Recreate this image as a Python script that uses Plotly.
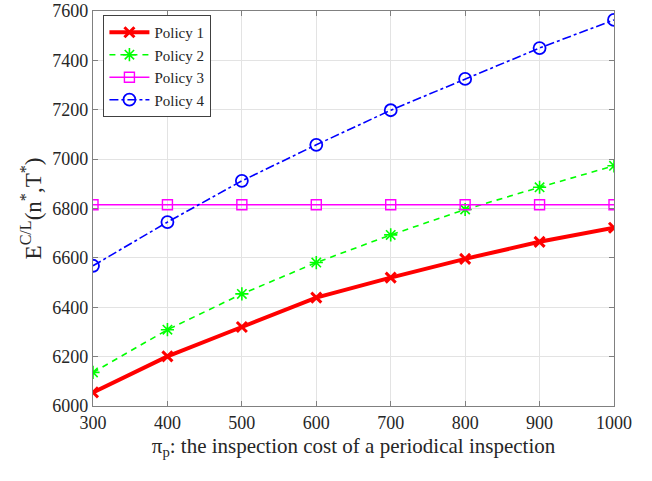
import plotly.graph_objects as go

x_vals = [300, 400, 500, 600, 700, 800, 900, 1000]
policy1 = [6055, 6201, 6320, 6439, 6520, 6596, 6665, 6722]
policy2 = [6136, 6309, 6454, 6581, 6693, 6796, 6886, 6973]
policy3 = [6815, 6815, 6815, 6815, 6815, 6815, 6815, 6815]
policy4 = [6568, 6745, 6912, 7058, 7198, 7325, 7450, 7564]
names = ["Policy 1", "Policy 2", "Policy 3", "Policy 4"]
x_ticks = [300, 400, 500, 600, 700, 800, 900, 1000]
y_ticks = [6000, 6200, 6400, 6600, 6800, 7000, 7200, 7400, 7600]

FONT = "Liberation Serif"

fig = go.Figure()
fig.add_trace(go.Scatter(x=x_vals, y=policy1, name=names[0], mode="lines+markers",
                         line=dict(color="#ff0000", width=4),
                         marker=dict(symbol="x-thin-open", size=10, color="#ff0000",
                                     line=dict(color="#ff0000", width=3))))
fig.add_trace(go.Scatter(x=x_vals, y=policy2, name=names[1], mode="lines+markers",
                         line=dict(color="#00ff00", width=1.6, dash="6px,5px"),
                         marker=dict(symbol="asterisk-open", size=11, color="#00ff00",
                                     line=dict(color="#00ff00", width=1.6))))
fig.add_trace(go.Scatter(x=x_vals, y=policy3, name=names[2], mode="lines+markers",
                         line=dict(color="#ff00ff", width=1.6),
                         marker=dict(symbol="square-open", size=10, color="#ff00ff",
                                     line=dict(color="#ff00ff", width=1.4))))
fig.add_trace(go.Scatter(x=x_vals, y=policy4, name=names[3], mode="lines+markers",
                         line=dict(color="#0000ff", width=1.6, dash="dashdot"),
                         marker=dict(symbol="circle-open", size=12, color="#0000ff",
                                     line=dict(color="#0000ff", width=1.8))))

axis_common = dict(showgrid=True, gridcolor="#e3e3e3", gridwidth=1,
                   showline=True, linecolor="#808080", linewidth=1.2, mirror="allticks",
                   ticks="inside", ticklen=5, tickcolor="#808080",
                   tickfont=dict(family=FONT, size=18, color="#262626"),
                   ticklabeloverflow="allow", automargin=False,
                   zeroline=False)

fig.update_layout(
    width=652, height=481,
    margin=dict(l=93, r=38, t=11, b=75),
    paper_bgcolor="white", plot_bgcolor="white",
    font=dict(family=FONT, color="#262626", size=18),
    xaxis=dict(range=[300, 1000], tickvals=x_ticks,
               title=dict(text="π<sub>p</sub>: the inspection cost of a periodical inspection",
                          font=dict(size=21, color="#262626"), standoff=6),
               **axis_common),
    yaxis=dict(range=[6000, 7600], tickvals=y_ticks,
               title=dict(text="E<sup>C/L</sup>(n<sup>*</sup>,T<sup>*</sup>)",
                          font=dict(size=23, color="#262626"), standoff=4),
               **axis_common),
    legend=dict(x=0.02, y=0.99, xanchor="left", yanchor="top",
                bgcolor="white", bordercolor="#404040", borderwidth=1,
                font=dict(family=FONT, size=15, color="#262626"),
                tracegroupgap=0, itemwidth=40),
    showlegend=True,
)

fig.write_html("out.html")
